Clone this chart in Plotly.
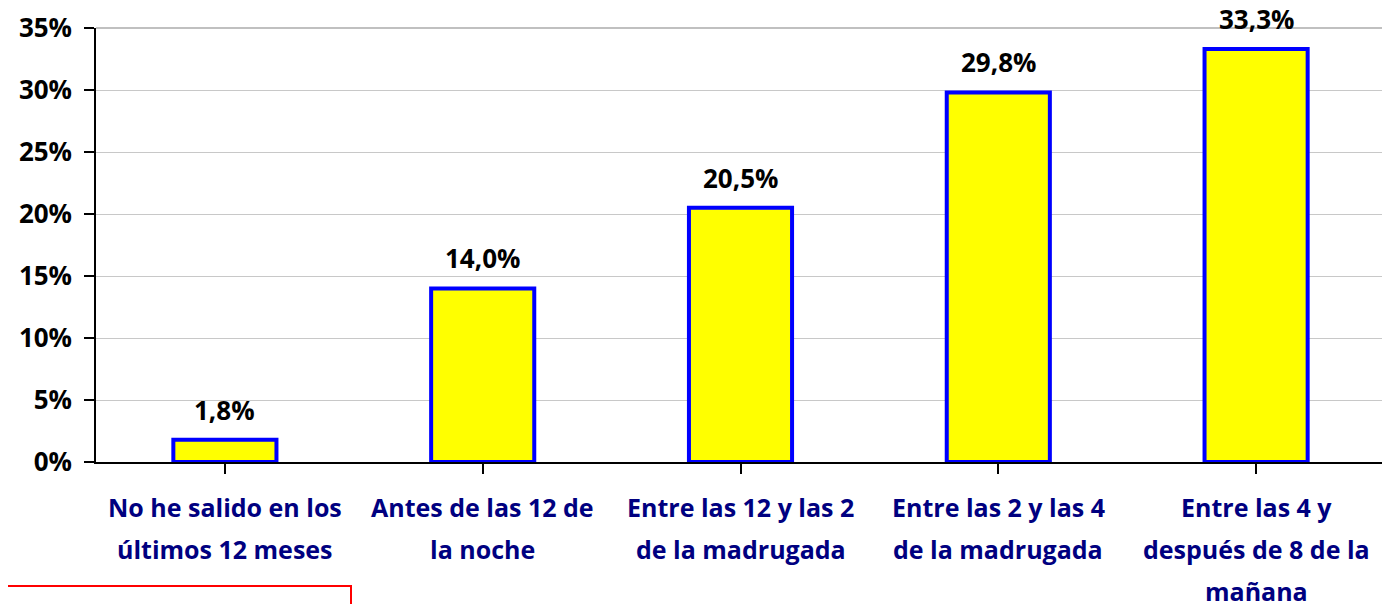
import plotly.graph_objects as go

categories = [
    "No he salido en los<br>últimos 12 meses",
    "Antes de las 12 de<br>la noche",
    "Entre las 12 y las 2<br>de la madrugada",
    "Entre las 2 y las 4<br>de la madrugada",
    "Entre las 4 y<br>después de 8 de la<br>mañana",
]
values = [0.018, 0.140, 0.205, 0.298, 0.333]
y_ticks = [0, 0.05, 0.10, 0.15, 0.20, 0.25, 0.30, 0.35]

FONT = "Open Sans"
W, H = 1390, 604
OFF = 8  # default page body margin
ML, MR, MT, MB = 96 - OFF, 13, 28 - OFF, 150
pw, ph = W - ML - MR, H - MT - MB

fig = go.Figure()
fig.add_trace(go.Bar(
    x=list(range(len(categories))), y=values,
    marker=dict(color="#FFFF00", line=dict(color="#0000FF", width=4)),
    width=0.40,
    hoverinfo="skip",
))

annotations = []
for i, v in enumerate(values):
    annotations.append(dict(
        x=i, y=v, xref="x", yref="y", text=f"{v*100:.1f}%".replace(".", ","),
        showarrow=False, yanchor="middle", yshift=30,
        font=dict(family=FONT, size=26, color="black", weight="bold"),
    ))
for i, c in enumerate(categories):
    for j, line in enumerate(c.split("<br>")):
        annotations.append(dict(
            x=i, y=0, xref="x", yref="paper", text=line,
            showarrow=False, yanchor="middle", yshift=-45 - 42 * j,
            font=dict(family=FONT, size=25, color="#000080", weight="bold"),
        ))

fig.update_layout(
    width=W, height=H,
    margin=dict(l=ML, r=MR, t=MT, b=MB, pad=0, autoexpand=False),
    plot_bgcolor="white", paper_bgcolor="white",
    showlegend=False,
    annotations=annotations,
    xaxis=dict(
        range=[-0.5, len(categories) - 0.5], automargin=False,
        tickmode="array", tickvals=list(range(len(categories))),
        ticktext=[""] * len(categories),
        tickson="boundaries", ticks="outside", ticklen=10, tickcolor="black",
        tickwidth=1.5,
        showline=True, linecolor="black", linewidth=1.5,
        showgrid=False, zeroline=False, fixedrange=True,
    ),
    yaxis=dict(
        range=[0, 0.35], automargin=False, tickmode="array", tickvals=y_ticks,
        tickformat=".0%", ticks="outside", ticklen=10, tickcolor="black",
        tickwidth=1.5, ticklabelstandoff=7,
        tickfont=dict(family=FONT, size=26, color="black", weight="bold"),
        showline=True, linecolor="black", linewidth=1.5,
        showgrid=True, gridcolor="#C8C8C8", gridwidth=1,
        zeroline=False, fixedrange=True,
    ),
    shapes=[
        dict(type="line", xref="paper", yref="paper", x0=0, x1=1, y0=1, y1=1,
             line=dict(color="#C0C0C0", width=2)),
        dict(type="line", xref="paper", yref="paper", x0=1, x1=1, y0=0, y1=1,
             line=dict(color="#C0C0C0", width=2)),
        dict(type="rect", xref="paper", yref="paper",
             x0=(-OFF - 2 - ML) / pw, x1=(351 - OFF - ML) / pw,
             y0=(H - MB - (586 - OFF)) / ph, y1=(H - MB - 640) / ph,
             line=dict(color="red", width=2), fillcolor="rgba(0,0,0,0)"),
    ],
)

fig.write_html("out.html")
